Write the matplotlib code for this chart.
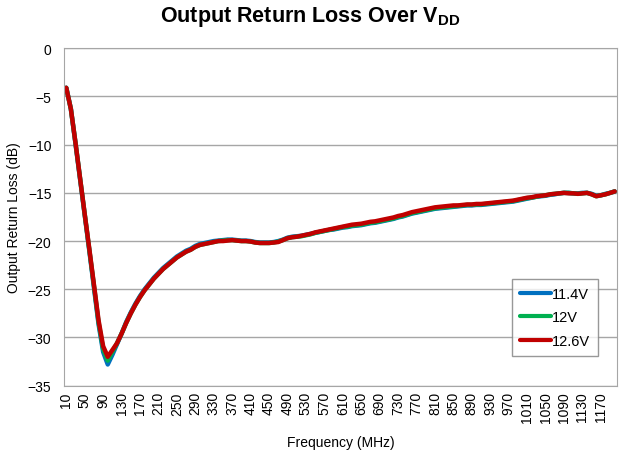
import matplotlib.pyplot as plt

plt.rcParams['font.family'] = ['Liberation Sans', 'DejaVu Sans']
plt.rcParams['mathtext.fontset'] = 'custom'
plt.rcParams['mathtext.bf'] = 'Liberation Sans:bold'

# frequencia 10..1200 MHz paso 10
freq = list(range(10, 1201, 10))

rl_11v4 = [
    -4.1, -6.3, -9.9, -13.6, -17.3, -21.0, -24.8, -28.6, -31.5, -32.8,
    -31.8, -30.7, -29.6, -28.4, -27.4, -26.5, -25.7, -25.0, -24.4, -23.8,
    -23.3, -22.8, -22.4, -22.0, -21.6, -21.3, -21.0, -20.8, -20.5, -20.3,
    -20.2, -20.1, -20.0, -19.95, -19.9, -19.85, -19.85, -19.9, -19.95, -19.95,
    -20.0, -20.1, -20.15, -20.15, -20.15, -20.1, -20.0, -19.85, -19.65, -19.55,
    -19.5, -19.45, -19.35, -19.25, -19.15, -19.05, -18.95, -18.85, -18.8, -18.7,
    -18.6, -18.55, -18.45, -18.4, -18.35, -18.25, -18.15, -18.1, -18.0, -17.9,
    -17.8, -17.7, -17.55, -17.45, -17.3, -17.15, -17.05, -16.95, -16.85, -16.75,
    -16.65, -16.6, -16.55, -16.5, -16.45, -16.4, -16.35, -16.3, -16.3, -16.25,
    -16.25, -16.2, -16.15, -16.1, -16.05, -16.0, -15.95, -15.9, -15.8, -15.7,
    -15.6, -15.5, -15.4, -15.35, -15.3, -15.2, -15.15, -15.05, -15.0, -15.0,
    -15.05, -15.05, -15.0, -15.0, -15.1, -15.3, -15.25, -15.1, -15.0, -14.85,
]

rl_12v = [
    -4.1, -6.3, -9.8, -13.5, -17.2, -20.9, -24.6, -28.4, -31.2, -32.4,
    -31.5, -30.6, -29.6, -28.5, -27.5, -26.6, -25.8, -25.1, -24.5, -23.9,
    -23.4, -22.9, -22.5, -22.1, -21.7, -21.4, -21.1, -20.9, -20.6, -20.4,
    -20.3, -20.2, -20.1, -20.0, -19.95, -19.9, -19.9, -19.95, -20.0, -20.0,
    -20.05, -20.15, -20.2, -20.2, -20.2, -20.15, -20.05, -19.9, -19.7, -19.6,
    -19.55, -19.5, -19.4, -19.3, -19.15, -19.05, -18.95, -18.85, -18.75, -18.65,
    -18.55, -18.5, -18.4, -18.35, -18.3, -18.2, -18.1, -18.05, -17.95, -17.85,
    -17.75, -17.65, -17.5, -17.4, -17.25, -17.1, -17.0, -16.9, -16.8, -16.7,
    -16.6, -16.55, -16.5, -16.45, -16.4, -16.35, -16.3, -16.25, -16.25, -16.2,
    -16.2, -16.15, -16.1, -16.05, -16.0, -15.95, -15.9, -15.85, -15.75, -15.65,
    -15.55, -15.5, -15.4, -15.3, -15.25, -15.15, -15.1, -15.05, -15.0, -15.0,
    -15.05, -15.1, -15.05, -15.0, -15.15, -15.35, -15.25, -15.15, -15.0, -14.85,
]

rl_12v6 = [
    -4.1, -6.3, -9.8, -13.5, -17.2, -20.8, -24.5, -28.2, -30.9, -32.0,
    -31.3, -30.6, -29.6, -28.5, -27.5, -26.6, -25.8, -25.1, -24.5, -23.9,
    -23.4, -22.9, -22.5, -22.1, -21.7, -21.4, -21.1, -20.9, -20.6, -20.4,
    -20.3, -20.2, -20.1, -20.0, -20.0, -19.95, -19.9, -19.95, -20.0, -20.0,
    -20.05, -20.15, -20.2, -20.2, -20.2, -20.15, -20.1, -19.9, -19.7, -19.6,
    -19.55, -19.45, -19.35, -19.25, -19.1, -19.0, -18.9, -18.8, -18.7, -18.6,
    -18.5, -18.4, -18.3, -18.25, -18.2, -18.1, -18.0, -17.95, -17.85, -17.75,
    -17.65, -17.55, -17.4, -17.3, -17.15, -17.0, -16.9, -16.8, -16.7, -16.6,
    -16.5, -16.45, -16.4, -16.35, -16.3, -16.3, -16.25, -16.2, -16.2, -16.15,
    -16.15, -16.1, -16.05, -16.0, -15.95, -15.9, -15.85, -15.8, -15.7, -15.6,
    -15.5, -15.45, -15.35, -15.3, -15.25, -15.15, -15.1, -15.05, -15.0, -15.05,
    -15.05, -15.1, -15.05, -15.0, -15.15, -15.35, -15.25, -15.15, -15.0, -14.85,
]

series = [('11.4V', rl_11v4, '#0070C0'),
          ('12V', rl_12v, '#00B050'),
          ('12.6V', rl_12v6, '#C00000')]

fig = plt.figure(figsize=(6.21, 4.56), dpi=100)
ax = fig.add_axes([0.103, 0.152, 0.8906, 0.740])

x = list(range(len(freq)))
for nombre, datos, color in series:
    ax.plot(x, datos, color=color, lw=3.2, label=nombre,
            solid_capstyle='round', solid_joinstyle='round')

ax.set_xlim(-0.5, len(freq) - 0.5)
ax.set_ylim(-35, 0)
ax.set_yticks(range(-35, 1, 5))
ax.set_xticks(x[::4])
ax.set_xticklabels([str(f) for f in freq[::4]], rotation=90, fontsize=10)
ax.tick_params(axis='y', labelsize=10, length=0, pad=9)
ax.tick_params(axis='x', length=0, pad=4)
ax.grid(axis='y', color='#A6A6A6', lw=1)
ax.set_axisbelow(True)
for s in ax.spines.values():
    s.set_color('#A6A6A6')

ax.set_xlabel('Frequency (MHz)', fontsize=10, labelpad=9)
ax.set_ylabel('Output Return Loss (dB)', fontsize=10, labelpad=5)

fig.suptitle(r'Output Return Loss Over $\mathbf{V_{DD}}$', fontsize=15.5,
             fontweight='bold', y=0.99)

leg = ax.legend(loc='upper left', bbox_to_anchor=(512 / 621, 1 - 280 / 456),
                bbox_transform=fig.transFigure, fontsize=10.5, frameon=True,
                fancybox=False, edgecolor='#7F7F7F', handlelength=2.1,
                handletextpad=0.1, borderpad=0.55, labelspacing=0.65,
                borderaxespad=0)
leg.get_frame().set_linewidth(1)
for linea in leg.get_lines():
    linea.set_linewidth(3)

fig.savefig('out.png', dpi=100)
